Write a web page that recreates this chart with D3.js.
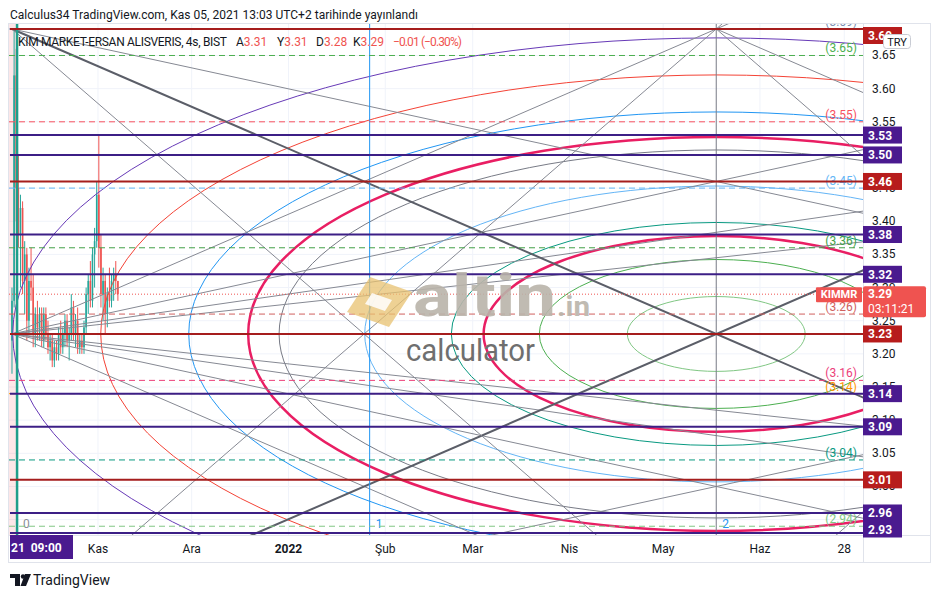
<!DOCTYPE html>
<html><head><meta charset="utf-8">
<script src="https://cdn.jsdelivr.net/npm/d3@7"></script>
<style>
body{margin:0;background:#fff;}
svg{display:block;font-family:Roboto,"Liberation Sans",Arial,sans-serif;}
</style>
</head><body>
<svg id="c" width="941" height="598"></svg>
<script>
// ---------------- DATA ----------------
const titleText = "Calculus34 TradingView.com, Kas 05, 2021 13:03 UTC+2 tarihinde yayınlandı";
const symbolName = "KIM MARKET-ERSAN ALISVERIS, 4s, BIST";
const ohlcKeys = ["A", "Y", "D", "K"];
const ohlcVals = ["3.31", "3.31", "3.28", "3.29"];
const changeText = "−0.01 (−0.30%)";
const tickerTag = "KIMMR";
const currencyTag = "TRY";
const lastPrice = 3.29;
const countdown = "03:11:21";
const dateTag = "21  09:00";

const purpleLevels = [3.53, 3.50, 3.38, 3.32, 3.14, 3.09, 2.96, 2.93];
const redLevels = [3.69, 3.46, 3.23, 3.01];

const fibLevels = [3.69, 3.65, 3.55, 3.45, 3.36, 3.26, 3.16, 3.14, 3.04, 2.94];
const fibColors = ["#7b8db0", "#4caf50", "#f7525f", "#64b5f6", "#43a047", "#d0605e", "#ec407a", "#ff9800", "#089981", "#81c784"];

const priceTicks = [2.95, 3.00, 3.05, 3.10, 3.15, 3.20, 3.25, 3.30, 3.35, 3.40, 3.45, 3.50, 3.55, 3.60, 3.65];
const timeTickDates = ["2021-11-01", "2021-12-01", "2022-01-01", "2022-02-01", "2022-03-01", "2022-04-01", "2022-05-01", "2022-06-01", "2022-06-28"];
const timeTickLabels = ["Kas", "Ara", "2022", "Şub", "Mar", "Nis", "May", "Haz", "28"];

// 4h candles (oldest -> newest)
const candleOpen  = [3.22,3.28,3.62,3.45,3.38,3.42,3.31,3.35,3.25,3.31,3.30,3.23,3.26,3.24,3.26,3.22,3.26,3.23,3.21,3.22,3.19,3.21,3.20,3.23,3.21,3.23,3.25,3.22,3.23,3.27,3.23,3.25,3.21,3.22,3.21,3.24,3.29,3.31,3.28,3.35,3.37,3.44,3.36,3.29,3.31,3.26,3.29,3.28,3.31,3.32,3.31];
const candleHigh  = [3.30,3.69,3.66,3.50,3.44,3.43,3.37,3.36,3.33,3.36,3.32,3.27,3.28,3.27,3.27,3.27,3.27,3.25,3.23,3.23,3.22,3.22,3.24,3.25,3.24,3.26,3.26,3.24,3.29,3.28,3.26,3.27,3.23,3.23,3.25,3.30,3.32,3.34,3.36,3.39,3.46,3.53,3.38,3.33,3.32,3.30,3.33,3.32,3.33,3.34,3.31];
const candleLow   = [3.17,3.27,3.40,3.36,3.30,3.29,3.26,3.22,3.23,3.28,3.21,3.21,3.22,3.22,3.21,3.21,3.22,3.20,3.19,3.18,3.18,3.19,3.19,3.20,3.20,3.21,3.21,3.19,3.22,3.22,3.21,3.20,3.20,3.20,3.20,3.23,3.26,3.27,3.27,3.30,3.36,3.33,3.27,3.25,3.23,3.24,3.27,3.27,3.28,3.29,3.28];
const candleClose = [3.28,3.62,3.45,3.38,3.42,3.31,3.35,3.25,3.31,3.30,3.23,3.26,3.24,3.26,3.22,3.26,3.23,3.21,3.22,3.19,3.21,3.20,3.23,3.21,3.23,3.25,3.22,3.23,3.27,3.23,3.25,3.21,3.22,3.21,3.24,3.29,3.31,3.28,3.35,3.37,3.44,3.36,3.29,3.31,3.26,3.29,3.28,3.31,3.32,3.31,3.29];
const candleFirstDate = "2021-10-04T11:00:00Z";
const candleLastDate = "2021-11-07T09:00:00Z";

// Fibonacci time zones
const timeZoneDates = ["2021-10-06T02:00:00Z", "2022-01-27T00:00:00Z", "2022-05-18T00:00:00Z"];
const timeZoneLabels = ["0", "1", "2"];

// Fibonacci circles (centre + unit radius, then levels)
const circleCenterDate = "2022-05-18T00:00:00Z";
const circleCenterPrice = 3.23;
const circleUnitDays = 149.9;
const circleUnitPrice = 0.2971;
const circleLevels = [0.19, 0.378, 0.497, 0.566, 0.751, 0.934, 1.0, 1.127, 1.315, 1.503];
const circleColors = ["#81c784", "#4caf50", "#e91e63", "#089981", "#64b5f6", "#787b86", "#e91e63", "#2196f3", "#f44336", "#673ab7"];

// Gann box anchors
const gannStartDate = "2021-10-04T11:00:00Z";
const gannMidDate = "2022-05-18T00:00:00Z";
const gannTop = 3.69;
const gannMid = 3.23;
const fanRatios = [0.25, 1/3, 0.5, 1];
// [fromTime, fromPrice, throughTime, throughPrice, heavy] in box units
const gannRays = [
  [0, 1, 1, 0, 1], [0, -1, 1, 0, 1],
  [0, 1, 0.5, 0, 0], [0, -1, 0.5, 0, 0],
  [0, 1, 1, 0.5, 0], [0, -1, 1, -0.5, 0],
  [1, 1, 1.5, 0, 0], [1, -1, 1.5, 0, 0],
  [1, 1, 2, 0, 0], [1, -1, 2, 0, 0]
];

// ---------------- CHART ----------------
const svg = d3.select("#c");
const pane = {l: 9, r: 863, t: 24, b: 535};
const x = d3.scaleUtc()
  .domain([new Date(Date.UTC(2021, 9, 3, 12)), new Date(Date.UTC(2022, 6, 4))])
  .range([pane.l, pane.r]);
const y = d3.scaleLinear().domain([2.9268, 3.6975]).range([pane.b, pane.t]);
const DAY = 86400000;

svg.append("rect").attr("width", 941).attr("height", 598).attr("fill", "#fff");

const defs = svg.append("defs");
defs.append("clipPath").attr("id", "paneClip").append("rect")
  .attr("x", pane.l).attr("y", pane.t).attr("width", pane.r - pane.l).attr("height", pane.b - pane.t);
defs.append("clipPath").attr("id", "dateClip").append("rect")
  .attr("x", 10).attr("y", 535).attr("width", 63).attr("height", 25);

const g = svg.append("g").attr("clip-path", "url(#paneClip)");

// grid
g.selectAll("line.vg").data(timeTickDates).join("line")
  .attr("x1", d => x(new Date(d))).attr("x2", d => x(new Date(d)))
  .attr("y1", pane.t).attr("y2", pane.b).attr("stroke", "#f0f3fa");
g.selectAll("line.hg").data(priceTicks).join("line")
  .attr("x1", pane.l).attr("x2", pane.r).attr("y1", d => y(d)).attr("y2", d => y(d)).attr("stroke", "#f0f3fa");

// pink highlight band of selected range
g.append("rect").attr("x", pane.l).attr("y", pane.t)
  .attr("width", x(new Date(timeZoneDates[0])) - pane.l - 1).attr("height", pane.b - pane.t)
  .attr("fill", "#f23645").attr("opacity", 0.12);

// candles
const ci = d3.scaleLinear().domain([0, candleOpen.length - 1])
  .range([x(new Date(candleFirstDate)), x(new Date(candleLastDate))]);
const candles = g.append("g");
candleOpen.forEach((o, i) => {
  const c = candleClose[i];
  const col = c >= o ? "#26a69a" : "#ef5350";
  candles.append("line").attr("x1", ci(i)).attr("x2", ci(i))
    .attr("y1", y(candleHigh[i])).attr("y2", y(candleLow[i])).attr("stroke", col).attr("stroke-width", 1);
  candles.append("rect").attr("x", ci(i) - 0.8).attr("width", 1.6)
    .attr("y", y(Math.max(o, c))).attr("height", Math.max(1, Math.abs(y(o) - y(c)))).attr("fill", col);
});

// fib circles
const cDate = new Date(circleCenterDate);
const ccx = x(cDate), ccy = y(circleCenterPrice);
g.selectAll("ellipse.fc").data(circleLevels).join("ellipse")
  .attr("cx", ccx).attr("cy", ccy)
  .attr("rx", l => x(new Date(+cDate + l * circleUnitDays * DAY)) - ccx)
  .attr("ry", l => y(circleCenterPrice - l * circleUnitPrice) - ccy)
  .attr("fill", "none")
  .attr("stroke", (l, i) => circleColors[i])
  .attr("stroke-width", (l, i) => circleColors[i] === "#e91e63" ? 2.5 : 1);

// gann lines
const t0 = +new Date(gannStartDate), span = +new Date(gannMidDate) - t0;
const pt = (tf, pf) => [x(new Date(t0 + tf * span)), y(gannMid + pf * (gannTop - gannMid))];
const ray = (a, b, ext = 6) => [a, [a[0] + ext * (b[0] - a[0]), a[1] + ext * (b[1] - a[1])]];
const rays = [];
fanRatios.forEach(r => {
  rays.push({seg: ray(pt(0, 0), pt(1, r)), heavy: 0});
  rays.push({seg: ray(pt(0, 0), pt(1, -r)), heavy: 0});
});
gannRays.forEach(d => rays.push({seg: ray(pt(d[0], d[1]), pt(d[2], d[3])), heavy: d[4]}));
g.selectAll("line.gr").data(rays).join("line")
  .attr("x1", d => d.seg[0][0]).attr("y1", d => d.seg[0][1])
  .attr("x2", d => d.seg[1][0]).attr("y2", d => d.seg[1][1])
  .attr("stroke", d => d.heavy ? "#5b5e68" : "#868993")
  .attr("stroke-width", d => d.heavy ? 2 : 1);

// fib time zones
const tzColors = ["#1f9e8a", "#2196f3", "#787b86"];
timeZoneDates.forEach((d, i) => {
  const xx = x(new Date(d));
  g.append("line").attr("x1", xx).attr("x2", xx).attr("y1", pane.t).attr("y2", pane.b)
    .attr("stroke", tzColors[i]).attr("stroke-width", i === 0 ? 2.5 : 1);
  g.append("text").attr("x", xx + 6).attr("y", 528).attr("font-size", 12)
    .attr("fill", i === 0 ? "#8a8d96" : "#2196f3").text(timeZoneLabels[i]);
});

// fib dashed levels
fibLevels.forEach((v, i) => {
  g.append("line").attr("x1", pane.l).attr("x2", pane.r).attr("y1", y(v)).attr("y2", y(v))
    .attr("stroke", fibColors[i]).attr("stroke-width", 1).attr("stroke-dasharray", "6,4");
  g.append("text").attr("x", 857).attr("y", y(v) - 3).attr("text-anchor", "end")
    .attr("font-size", 12).attr("fill", fibColors[i]).text("(" + v.toFixed(2) + ")");
});

// solid levels
g.selectAll("line.pl").data(purpleLevels).join("line")
  .attr("x1", pane.l + 1).attr("x2", pane.r).attr("y1", d => y(d)).attr("y2", d => y(d))
  .attr("stroke", "#3c1f86").attr("stroke-width", 2);
g.selectAll("line.rl").data(redLevels).join("line")
  .attr("x1", pane.l + 1).attr("x2", pane.r).attr("y1", d => y(d)).attr("y2", d => y(d))
  .attr("stroke", "#a51d1d").attr("stroke-width", 2);

// last price line
g.append("line").attr("x1", pane.l).attr("x2", pane.r).attr("y1", y(lastPrice)).attr("y2", y(lastPrice))
  .attr("stroke", "#ef5350").attr("stroke-width", 1).attr("stroke-dasharray", "1,2");

// watermark
const wm = svg.append("g");
wm.append("path").attr("d", "M370,277 L412,292 L389,327 L347,312 Z").attr("fill", "#e8c170").attr("opacity", 0.75);
wm.append("path").attr("d", "M372,293 L392,300 L385,311 L365,304 Z").attr("fill", "#fff").attr("opacity", 0.85);
wm.append("text").attr("x", 413).attr("y", 316).attr("font-size", 60).attr("font-weight", "bold")
  .attr("fill", "#bab4aa").attr("opacity", 0.9).attr("textLength", 143).attr("lengthAdjust", "spacingAndGlyphs").text("altin");
wm.append("text").attr("x", 557).attr("y", 316).attr("font-size", 28).attr("font-weight", "bold")
  .attr("fill", "#bab4aa").attr("opacity", 0.9).attr("textLength", 33).attr("lengthAdjust", "spacingAndGlyphs").text(".in");
wm.append("text").attr("x", 406).attr("y", 361).attr("font-size", 31)
  .attr("fill", "#6f6f6f").attr("textLength", 129).attr("lengthAdjust", "spacingAndGlyphs").text("calculator");

// frame & axes separators
svg.append("rect").attr("x", 8.5).attr("y", 23.5).attr("width", 922).attr("height", 539)
  .attr("fill", "none").attr("stroke", "#e0e3eb");
svg.append("line").attr("x1", 8.5).attr("x2", 930.5).attr("y1", 535.5).attr("y2", 535.5).attr("stroke", "#e0e3eb");
svg.append("line").attr("x1", 863.5).attr("x2", 863.5).attr("y1", 23.5).attr("y2", 562.5).attr("stroke", "#e0e3eb");

// header & legend
svg.append("text").attr("x", 10).attr("y", 19).attr("font-size", 12).attr("fill", "#131722")
  .attr("textLength", 408).text(titleText);
svg.append("text").attr("x", 18).attr("y", 46).attr("font-size", 12).attr("fill", "#131722")
  .attr("textLength", 209).text(symbolName);
const keyX = [236, 277, 316, 353];
ohlcKeys.forEach((k, i) => {
  const t = svg.append("text").attr("x", keyX[i]).attr("y", 46).attr("font-size", 12);
  t.append("tspan").attr("fill", "#131722").text(k);
  t.append("tspan").attr("fill", "#ef5350").text(ohlcVals[i]);
});
svg.append("text").attr("x", 393).attr("y", 46).attr("font-size", 12).attr("fill", "#ef5350")
  .attr("textLength", 69).text(changeText);

// price axis ticks (those fully hidden by a badge are not drawn)
const badgeLevels = purpleLevels.concat(redLevels);
const yl = y(lastPrice);
const visibleTicks = priceTicks.filter(t => {
  const yt = y(t);
  if (badgeLevels.some(b => Math.abs(y(b) - yt) < 5)) return false;
  if (yt > yl - 4 && yt < yl + 19) return false;
  return true;
});
svg.selectAll("text.pt").data(visibleTicks).join("text")
  .attr("x", 872).attr("y", d => y(d) + 4).attr("font-size", 12).attr("fill", "#131722")
  .text(d => d.toFixed(2));

// time axis
svg.selectAll("text.tt").data(timeTickDates).join("text")
  .attr("x", d => x(new Date(d))).attr("y", 553).attr("text-anchor", "middle")
  .attr("font-size", 12).attr("fill", "#131722")
  .attr("font-weight", (d, i) => timeTickLabels[i] === "2022" ? "bold" : "normal")
  .text((d, i) => timeTickLabels[i]);
svg.append("rect").attr("x", 10).attr("y", 535).attr("width", 63).attr("height", 24).attr("fill", "#4a1a8f");
svg.append("text").attr("x", 11).attr("y", 552).attr("font-size", 12).attr("font-weight", "bold")
  .attr("fill", "#fff").attr("clip-path", "url(#dateClip)").attr("xml:space", "preserve").text(dateTag);

// level badges
const badge = (v, col) => {
  const yc = Math.max(pane.t + 11.5, Math.min(y(v), 529));
  svg.append("rect").attr("x", 863).attr("y", yc - 8.5).attr("width", 39).attr("height", 17).attr("fill", col);
  svg.append("text").attr("x", 868).attr("y", yc + 4.5).attr("font-size", 12).attr("font-weight", "bold")
    .attr("fill", "#fff").text(v.toFixed(2));
};
purpleLevels.forEach(v => badge(v, "#4a1a8f"));
redLevels.forEach(v => badge(v, "#b71c1c"));

// last price badge
svg.append("rect").attr("x", 863).attr("y", yl - 8).attr("width", 63).attr("height", 31).attr("rx", 2).attr("fill", "#ef5350");
svg.append("text").attr("x", 868).attr("y", yl + 4).attr("font-size", 12).attr("font-weight", "bold").attr("fill", "#fff").text(lastPrice.toFixed(2));
svg.append("text").attr("x", 868).attr("y", yl + 19).attr("font-size", 12).attr("fill", "#fff").text(countdown);
svg.append("rect").attr("x", 816).attr("y", yl - 7).attr("width", 46).attr("height", 15).attr("rx", 1).attr("fill", "#ef5350");
svg.append("text").attr("x", 839).attr("y", yl + 4).attr("text-anchor", "middle").attr("font-size", 11)
  .attr("font-weight", "bold").attr("fill", "#fff").text(tickerTag);

// currency tag
svg.append("rect").attr("x", 883.5).attr("y", 34.5).attr("width", 27).attr("height", 14).attr("rx", 3)
  .attr("fill", "#fff").attr("stroke", "#c9ccd4");
svg.append("text").attr("x", 897).attr("y", 45.5).attr("text-anchor", "middle").attr("font-size", 11)
  .attr("fill", "#131722").text(currencyTag);

// footer logo
const logo = svg.append("g").attr("fill", "#131722");
logo.append("path").attr("d", "M10,574 H20 V586 H15 V578 H10 Z");
logo.append("circle").attr("cx", 23).attr("cy", 576.5).attr("r", 2.2);
logo.append("path").attr("d", "M25,574 H31 L26,586 H20.5 Z");
svg.append("text").attr("x", 33).attr("y", 585).attr("font-size", 14).attr("fill", "#131722").text("TradingView");
</script>
</body></html>
